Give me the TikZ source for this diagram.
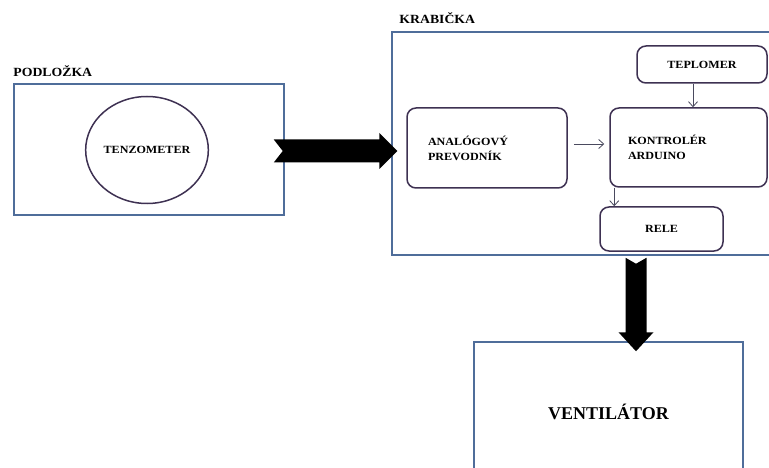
\documentclass[tikz,border=0pt]{standalone}
\usepackage{fontspec}
\setmainfont{Liberation Serif}
\newfontfamily\widefont[FakeStretch=1.1]{Liberation Serif}
\usetikzlibrary{positioning, shapes.geometric, calc, arrows.meta}

\definecolor{boxblue}{HTML}{4F6D9A}
\definecolor{boxpurple}{HTML}{3E3152}
\definecolor{flowgrey}{HTML}{4A4A5E}

\tikzset{
  outerbox/.style={draw=boxblue, line width=1.5pt, inner sep=0pt},
  innerbox/.style={draw=boxpurple, line width=1.5pt, rounded corners=9pt, inner sep=0pt,
    font=\widefont\bfseries\fontsize{11}{15}\selectfont},
  heading/.style={font=\widefont\bfseries\fontsize{12.5}{14}\selectfont, inner sep=0pt},
  flow/.style={-{Straight Barb[length=5pt, width=9pt]}, draw=flowgrey, line width=0.8pt}
}

\begin{document}
\begin{tikzpicture}[x=1pt, y=-1pt]
\useasboundingbox (0,0) rectangle (769,468);
\clip (0,0) rectangle (769,468);

% Podlozka
\node[outerbox, minimum width=270pt, minimum height=131pt] (podlozka) at (149,149.5) {};
\node[heading, above right=6pt and 0pt of podlozka.north west] (podlozkatext) {PODLOŽKA};
\node[ellipse, draw=boxpurple, line width=1.5pt, minimum width=116pt, minimum height=107pt, inner sep=0pt,
  font=\widefont\bfseries\fontsize{11}{12}\selectfont] (tenzometer) at (147,150) {TENZOMETER};

% Krabicka
\node[outerbox, minimum width=420pt, minimum height=223pt] (krabicka) at (602,143.5) {};
\node[heading, above right=7pt and 8pt of krabicka.north west] (krabickatext) {KRABIČKA};
\node[innerbox, text width=118pt, inner xsep=21pt, minimum height=80pt, align=left] (analog) at (487,148) {ANALÓGOVÝ\\PREVODNÍK};
\node[innerbox, text width=121pt, inner xsep=18pt, minimum height=79pt, align=left] (kontroler) at (688.5,147.5) {KONTROLÉR\\ARDUINO};
\node[innerbox, minimum width=130pt, minimum height=37pt] (teplomer) at (702,64.5) {TEPLOMER};
\node[innerbox, minimum width=123pt, minimum height=44pt] (rele) at (661.5,229) {RELE};

% Ventilator
\node[outerbox, minimum width=269pt, minimum height=140pt, font=\bfseries\fontsize{18}{20}\selectfont] (ventilator) at (608.5,412) {VENTILÁTOR};

% Arrows
\draw[flow, shorten <=6pt, shorten >=5pt] ([yshift=4pt]analog.east) -- ([yshift=4pt]analog.east -| kontroler.west);
\draw[flow] ([xshift=-9pt]teplomer.south) -- ([xshift=-9pt]teplomer.south |- kontroler.north);
\draw[flow] ([xshift=5pt]kontroler.south west) -- ([xshift=5pt]kontroler.south west |- rele.north);

\coordinate (r1) at ($(podlozka.east)+(-11,1.5)$);
\coordinate (r2) at ($(krabicka.west |- r1)+(6,0)$);
\fill ($(r1)+(0,-11.5)$) -- ($(r2)+(-18,-11.5)$) -- ($(r2)+(-18,-18)$) -- (r2)
  -- ($(r2)+(-18,18)$) -- ($(r2)+(-18,11.5)$) -- ($(r1)+(0,11.5)$) -- ($(r1)+(9,0)$) -- cycle;

\coordinate (d1) at ($(rele.south)+(-25.5,6)$);
\coordinate (d2) at ($(ventilator.north -| d1)+(0,10)$);
\fill ($(d1)+(-10.5,0)$) -- ($(d2)+(-10.5,-19)$) -- ($(d2)+(-17.5,-19)$) -- (d2)
  -- ($(d2)+(17.5,-19)$) -- ($(d2)+(10.5,-19)$) -- ($(d1)+(10.5,0)$) -- ($(d1)+(0,6)$) -- cycle;
\end{tikzpicture}
\end{document}
